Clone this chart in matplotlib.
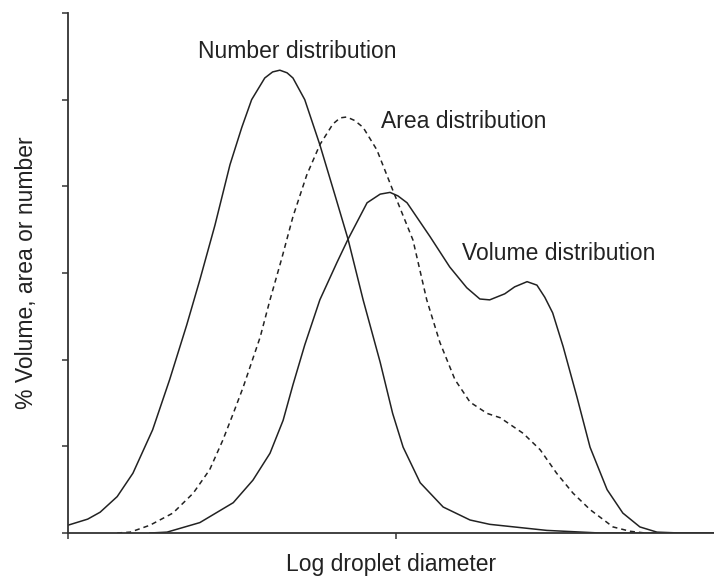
import matplotlib
matplotlib.use("Agg")
import matplotlib.pyplot as plt

plt.rcParams['font.family'] = ['Liberation Sans', 'DejaVu Sans']

# Droplet size distributions (arbitrary log-diameter units, relative frequency)
number_x = [0.0, 3.0, 4.9, 7.5, 9.9, 12.9, 15.5, 18.1, 20.1, 22.4, 24.7, 26.5, 28.0,
            30.0, 31.2, 32.3, 33.4, 34.3, 36.1, 38.4, 40.7, 42.7, 45.0, 47.6, 49.5,
            51.1, 53.7, 57.2, 61.3, 64.3, 73.0, 81.1, 98.5]
number_y = [0.09, 0.16, 0.24, 0.42, 0.69, 1.19, 1.77, 2.40, 2.92, 3.55, 4.25, 4.68, 5.00,
            5.25, 5.32, 5.34, 5.31, 5.25, 5.00, 4.48, 3.90, 3.39, 2.69, 1.97, 1.38,
            0.99, 0.58, 0.30, 0.15, 0.10, 0.03, 0.0, 0.0]

area_x = [7.5, 9.5, 12.5, 16.0, 19.1, 21.6, 23.6, 25.2, 26.7, 29.3, 30.8, 32.6, 34.3,
          36.4, 38.4, 40.4, 41.5, 42.5, 43.7, 45.0, 47.1, 49.5, 52.6, 54.7, 56.7, 59.0,
          61.3, 63.9, 65.9, 69.4, 72.0, 74.5, 77.0, 79.6, 83.1, 85.7, 88.0]
area_y = [0.0, 0.01, 0.09, 0.23, 0.46, 0.73, 1.07, 1.38, 1.68, 2.26, 2.69, 3.17, 3.65,
          4.13, 4.48, 4.72, 4.79, 4.80, 4.76, 4.68, 4.42, 3.96, 3.38, 2.69, 2.20, 1.77,
          1.51, 1.38, 1.33, 1.15, 0.96, 0.69, 0.46, 0.27, 0.07, 0.02, 0.0]

volume_x = [12.5, 15.1, 20.1, 25.2, 28.2, 30.8, 32.8, 34.3, 36.1, 38.4, 41.0, 42.7, 45.6,
            47.6, 49.1, 50.3, 51.7, 55.2, 58.2, 60.8, 62.8, 64.3, 66.6, 68.1, 70.0, 71.5,
            72.7, 73.9, 75.5, 77.6, 79.6, 82.2, 84.6, 87.2, 89.8, 93.3, 98.5]
volume_y = [0.0, 0.01, 0.12, 0.35, 0.61, 0.92, 1.30, 1.71, 2.17, 2.69, 3.12, 3.39, 3.81,
            3.91, 3.93, 3.89, 3.81, 3.42, 3.07, 2.83, 2.70, 2.69, 2.76, 2.84, 2.90, 2.86,
            2.72, 2.54, 2.15, 1.57, 0.99, 0.50, 0.23, 0.07, 0.01, 0.0, 0.0]

labels = ["Number distribution", "Area distribution", "Volume distribution"]
label_x = [34.9, 60.4, 74.8]
label_y = [5.55, 4.75, 3.22]

ink = "#222222"

fig = plt.figure(figsize=(7.14, 5.84), dpi=100)
ax = fig.add_axes([68 / 714, 51 / 584, 646 / 714, 520 / 584])

ax.plot(number_x, number_y, color=ink, lw=1.1, solid_joinstyle="round")
ax.plot(area_x, area_y, color=ink, lw=1.1, dashes=(3.3, 2.6))
ax.plot(volume_x, volume_y, color=ink, lw=1.1, solid_joinstyle="round")

for txt, tx, ty in zip(labels, label_x, label_y):
    ax.text(tx, ty, txt, ha="center", va="center", fontsize=16.5, color=ink)

ax.set_xlim(0, 98.5)
ax.set_ylim(0, 6)
ax.set_yticks(range(0, 7))
ax.set_xticks([0, 50])
ax.tick_params(axis="both", direction="out", length=4.5, width=1.1, color="#333333",
               labelleft=False, labelbottom=False)
for side in ("top", "right"):
    ax.spines[side].set_visible(False)
for side in ("left", "bottom"):
    ax.spines[side].set_color("#333333")
    ax.spines[side].set_linewidth(1.3)

ax.set_xlabel("Log droplet diameter", fontsize=16.5, color=ink, labelpad=10)
ax.set_ylabel("% Volume, area or number", fontsize=16.5, color=ink, labelpad=17)

fig.savefig("out.png", dpi=100)
